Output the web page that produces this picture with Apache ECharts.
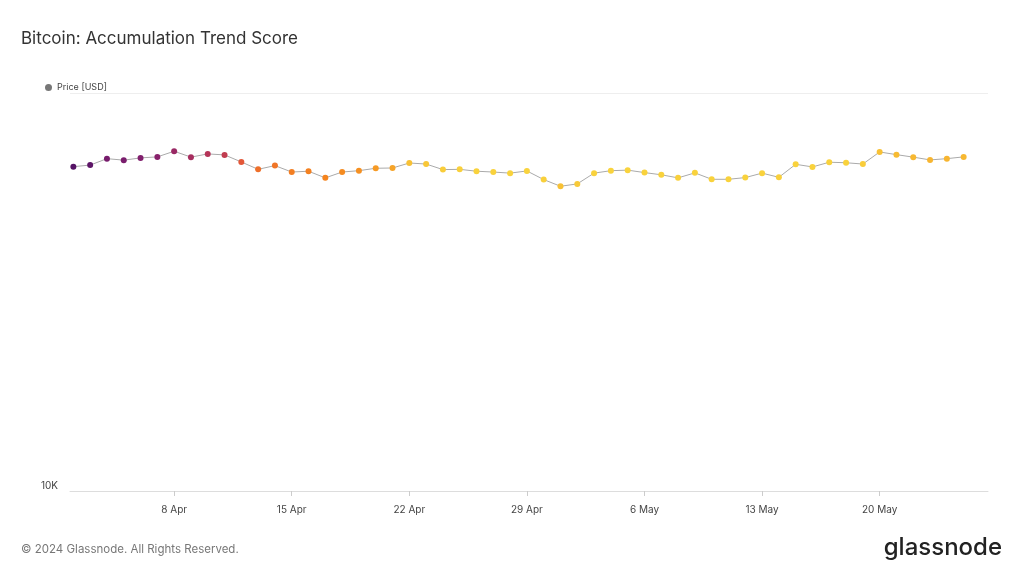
<!DOCTYPE html>
<html>
<head>
<meta charset="utf-8">
<script src="https://cdn.jsdelivr.net/npm/echarts@6/dist/echarts.min.js"></script>
<style>html,body{margin:0;background:#fff}#main{width:1024px;height:576px}</style>
</head>
<body>
<div id="main"></div>
<script>
// daily BTC price (thousand USD), 2 Apr – 25 May 2024
var prices = [65.3,65.9,68.4,67.8,68.7,69.1,71.4,69.0,70.3,69.9,67.1,64.3,65.7,63.3,63.6,61.2,63.3,63.8,64.7,64.8,66.7,66.3,64.2,64.3,63.6,63.3,62.9,
  63.7,60.6,58.3,59.1,62.9,63.8,64.0,63.1,62.3,61.2,63.0,60.7,60.7,61.3,62.9,61.4,66.2,65.2,67.0,66.8,66.3,71.1,70.0,69.0,67.9,68.4,69.1];
// accumulation trend score 0..1 (colour of dots)
var scores = [0.03,0.05,0.12,0.13,0.15,0.17,0.22,0.26,0.3,0.33,0.42,0.5,0.52,0.55,0.56,0.57,0.6,0.62,0.66,0.7,0.8,0.82,0.84,0.85,0.86,0.86,0.87,
  0.87,0.85,0.8,0.83,0.86,0.87,0.87,0.86,0.86,0.85,0.86,0.86,0.86,0.86,0.86,0.85,0.86,0.86,0.86,0.86,0.84,0.8,0.78,0.77,0.76,0.76,0.77];
var tickDays = ['2024-04-08','2024-04-15','2024-04-22','2024-04-29','2024-05-06','2024-05-13','2024-05-20'];
var monthNames = ['Jan','Feb','Mar','Apr','May','Jun'];

var start = Date.UTC(2024, 3, 2);
var day = 86400000;
var data = prices.map(function (p, i) { return [start + i * day, p * 1000, scores[i]]; });
var ticks = tickDays.map(function (d) { return Date.parse(d + 'T00:00:00Z'); });

var chart = echarts.init(document.getElementById('main'));
chart.setOption({
  animation: false,
  textStyle: { fontFamily: 'Inter' },
  title: { text: 'Bitcoin: Accumulation Trend Score', left: 16, top: 25,
    textStyle: { fontSize: 17, fontWeight: 'normal', color: '#333' } },
  legend: { left: 40, top: 78, itemWidth: 7, itemHeight: 7, icon: 'circle',
    textStyle: { fontSize: 9, color: '#444' }, data: [{ name: 'Price [USD]', itemStyle: { color: '#777' } }] },
  grid: { left: 70, right: 36, top: 93, bottom: 85 },
  visualMap: { show: false, seriesIndex: 0, dimension: 2, min: 0, max: 1,
    inRange: { color: ['#4a1063', '#7f1e6e', '#b0305c', '#e65a36', '#f5841e', '#f6a82a', '#f9d23c', '#fbdd45'] } },
  xAxis: {
    type: 'value', min: start - 0.2 * day, max: start + 54.45 * day,
    axisLine: { lineStyle: { color: '#ddd' } },
    axisTick: { show: true, customValues: ticks, length: 5, lineStyle: { color: '#ccc' } },
    axisLabel: { customValues: ticks, color: '#444', fontSize: 10, margin: 14,
      formatter: function (v) { var d = new Date(v); return d.getUTCDate() + ' ' + monthNames[d.getUTCMonth()]; } },
    splitLine: { show: false }
  },
  yAxis: {
    type: 'log', min: 10000, max: 100000, logBase: 10,
    axisLine: { show: false }, axisTick: { show: false },
    axisLabel: { color: '#444', fontSize: 10, margin: 12, verticalAlign: 'bottom',
      formatter: function (v) { return v === 10000 ? '10K' : ''; } },
    splitLine: { lineStyle: { color: '#eee' } }
  },
  series: [{
    name: 'Price [USD]', type: 'line', data: data, symbol: 'circle', symbolSize: 6,
    lineStyle: { color: '#aaa', width: 1 }, itemStyle: { color: '#777' }
  }],
  graphic: [
    { type: 'text', left: 21, top: 544, style: { text: '© 2024 Glassnode. All Rights Reserved.', fill: '#777', fontSize: 11.5, fontFamily: 'Inter' } },
    { type: 'text', right: 22, top: 536, style: { text: 'glassnode', fill: '#222', fontSize: 24, fontWeight: 500, fontFamily: 'Inter' } }
  ]
});
</script>
</body>
</html>
